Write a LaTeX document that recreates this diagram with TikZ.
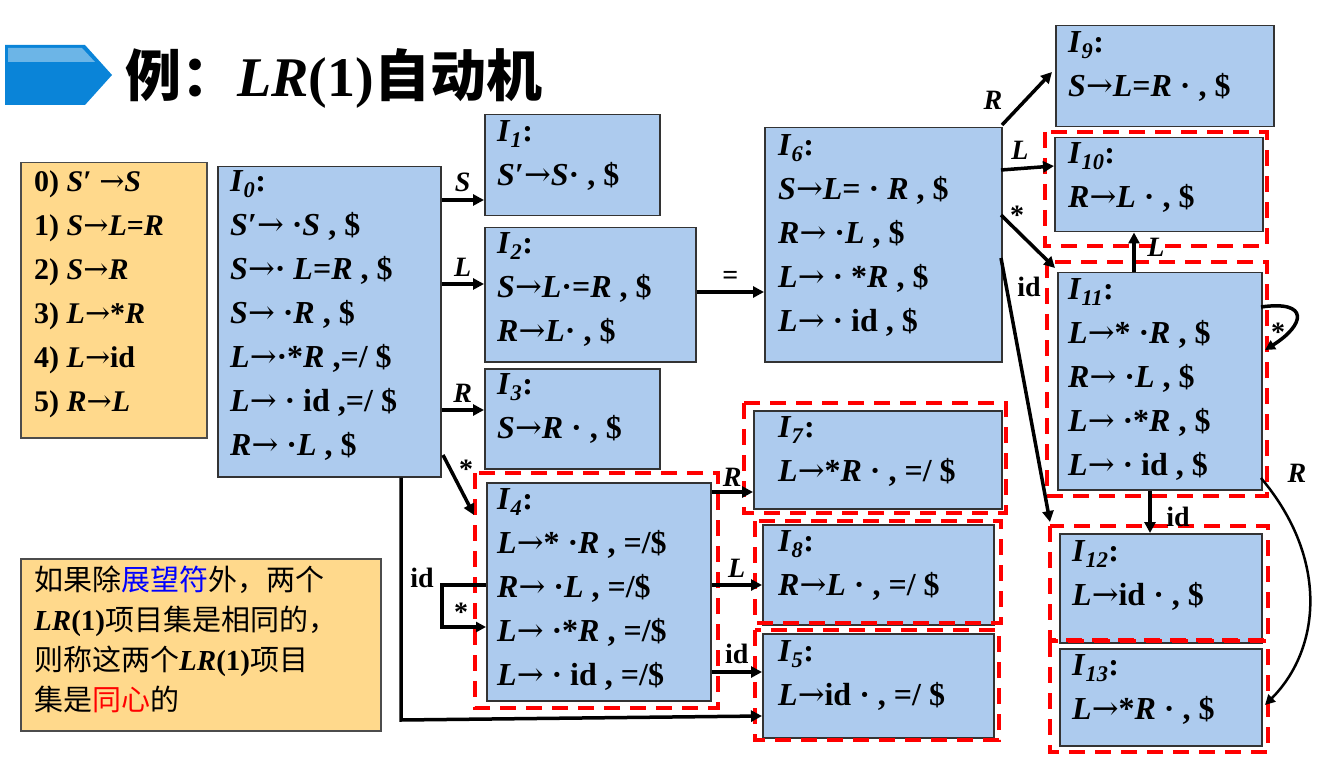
\documentclass[tikz,border=0pt]{standalone}
\usepackage{fontspec}
\setmainfont{Liberation Serif}
\newfontfamily\cjk{Noto Sans CJK SC}
\newfontfamily\arrf{DejaVu Serif}
\usetikzlibrary{arrows.meta,positioning}
\definecolor{boxb}{HTML}{ADCBEE}
\definecolor{boxo}{HTML}{FFD98C}
\definecolor{tblue}{HTML}{0A84D8}
\newcommand{\ii}[1]{\textit{#1}}
\newcommand{\Ix}[1]{\textit{I}\textsubscript{\textit{#1}}:}
\newcommand{\ra}{{\arrf\mdseries →}}
\begin{document}
\begin{tikzpicture}[x=1pt,y=-1pt,
  box/.style={draw=black!80,line width=1.5pt,fill=boxb,anchor=north west,inner sep=0},
  txt/.style={anchor=north west,inner sep=0,align=left,font=\fontsize{32}{44}\selectfont\bfseries},
  red/.style={draw=red,line width=4pt,dash pattern=on 16pt off 10pt},
  arr/.style={line width=3.5pt,-{Triangle[length=11pt,width=11pt]}},
  lab/.style={font=\fontsize{28}{30}\selectfont\bfseries,inner sep=0}]
\useasboundingbox (0,0) rectangle (1324,775);
% title
\fill[tblue] (5,45) -- (85,45) -- (112,75) -- (85,105) -- (5,105) -- cycle;
\fill[white,opacity=0.4] (8,48) -- (82,48) -- (95,62) -- (8,62) -- cycle;
\node[anchor=west,inner sep=0,font=\fontsize{56}{60}\selectfont\bfseries] (title) at (125,78) {{\cjk 例：}\ii{LR}(1){\cjk 自动机}};
% grammar
\node[draw=black!70,line width=1.5pt,fill=boxo,anchor=north west,minimum width=186,minimum height=275,inner sep=0] (G) at (20,162) {};
\node[txt,font=\fontsize{30}{44}\selectfont\bfseries] (Gt) at (34,170) {0) \ii{S}′ \ra\ii{S}\\1) \ii{S}\ra\ii{L}=\ii{R}\\2) \ii{S}\ra\ii{R}\\3) \ii{L}\ra*\ii{R}\\4) \ii{L}\ra id\\5) \ii{R}\ra\ii{L}};
% boxes
\node[box,minimum width=223,minimum height=310] (I0) at (217,166) {};
\node[txt] (t0) at (230,170) {\Ix{0}\\\ii{S}′\ra\ ·\ii{S} , \$\\\ii{S}\ra· \ii{L}=\ii{R} , \$\\\ii{S}\ra\ ·\ii{R} , \$\\\ii{L}\ra·*\ii{R} ,=/ \$\\\ii{L}\ra\ · id ,=/ \$\\\ii{R}\ra\ ·\ii{L} , \$};
\node[box,minimum width=175,minimum height=101] (I1) at (484,114) {};
\node[txt] (t1) at (497,120) {\Ix{1}\\\ii{S}′\ra\ii{S}· , \$};
\node[box,minimum width=211,minimum height=134] (I2) at (484,227) {};
\node[txt] (t2) at (497,232) {\Ix{2}\\\ii{S}\ra\ii{L}·=\ii{R} , \$\\\ii{R}\ra\ii{L}· , \$};
\node[box,minimum width=175,minimum height=100] (I3) at (484,368) {};
\node[txt] (t3) at (497,373) {\Ix{3}\\\ii{S}\ra\ii{R} · , \$};
\node[box,minimum width=224,minimum height=218] (I4) at (486,482) {};
\node[txt] (t4) at (497,488) {\Ix{4}\\\ii{L}\ra* ·\ii{R} , =/\$\\\ii{R}\ra\ ·\ii{L} , =/\$\\\ii{L}\ra\ ·*\ii{R} , =/\$\\\ii{L}\ra\ · id , =/\$};
\node[box,minimum width=237,minimum height=234] (I6) at (764,127) {};
\node[txt] (t6) at (778,134) {\Ix{6}\\\ii{S}\ra\ii{L}= · \ii{R} , \$\\\ii{R}\ra\ ·\ii{L} , \$\\\ii{L}\ra\ · *\ii{R} , \$\\\ii{L}\ra\ · id , \$};
\node[box,minimum width=248,minimum height=98] (I7) at (753,410) {};
\node[txt] (t7) at (778,416) {\Ix{7}\\\ii{L}\ra*\ii{R} · , =/ \$};
\node[box,minimum width=231,minimum height=100] (I8) at (762,524) {};
\node[txt] (t8) at (778,530) {\Ix{8}\\\ii{R}\ra\ii{L} · , =/ \$};
\node[box,minimum width=231,minimum height=104] (I5) at (762,633) {};
\node[txt] (t5) at (778,640) {\Ix{5}\\\ii{L}\ra id · , =/ \$};
\node[box,minimum width=218,minimum height=101] (I9) at (1055,25) {};
\node[txt] (t9) at (1068,31) {\Ix{9}\\\ii{S}\ra\ii{L}=\ii{R} · , \$};
\node[box,minimum width=208,minimum height=94] (I10) at (1054,137) {};
\node[txt] (t10) at (1068,142) {\Ix{10}\\\ii{R}\ra\ii{L} · , \$};
\node[box,minimum width=204,minimum height=217] (I11) at (1057,272) {};
\node[txt] (t11) at (1068,278) {\Ix{11}\\\ii{L}\ra* ·\ii{R} , \$\\\ii{R}\ra\ ·\ii{L} , \$\\\ii{L}\ra\ ·*\ii{R} , \$\\\ii{L}\ra\ · id , \$};
\node[box,minimum width=202,minimum height=109] (I12) at (1059,533) {};
\node[txt] (t12) at (1072,540) {\Ix{12}\\\ii{L}\ra id · , \$};
\node[box,minimum width=202,minimum height=97] (I13) at (1059,648) {};
\node[txt] (t13) at (1072,654) {\Ix{13}\\\ii{L}\ra*\ii{R} · , \$};
% red dashed
\draw[red] (475,473) rectangle (718,708);
\draw[red] (744,403) rectangle (1006,513);
\draw[red] (755,521) rectangle (1001,623);
\draw[red] (755,630) rectangle (999,740);
\draw[red] (1045,132) rectangle (1267,246);
\draw[red] (1047,262) rectangle (1267,496);
\draw[red] (1050,526) rectangle (1268,640);
\draw[red] (1050,641) rectangle (1268,752);
% note
\node[draw=black!70,line width=1.5pt,fill=boxo,anchor=north west,minimum width=360,minimum height=172,inner sep=0] (N) at (20,558) {};
\node[txt,font=\fontsize{29}{40}\selectfont\cjk] (Nt) at (34,566) {如果除{\color{blue}展望符}外，两个\\{\rmfamily\bfseries\ii{LR}(1)}项目集是相同的，\\则称这两个{\rmfamily\bfseries\ii{LR}(1)}项目\\集是{\color{red}同心}的};
% arrows
\draw[arr] (I0.east |- 0,200) -- (I1.west |- 0,200) node[lab,midway,above=6pt] {\ii{S}};
\draw[arr] (I0.east |- 0,284) -- (I2.west |- 0,284) node[lab,midway,above=6pt] {\ii{L}};
\draw[arr] (I0.east |- 0,410) -- (I3.west |- 0,410) node[lab,midway,above=6pt] {\ii{R}};
\coordinate (a4) at (443,455); \coordinate (b4) at (474,515);
\draw[arr] (a4) -- (b4);
\node[lab] (s4) at (466,469) {*};
\coordinate (c5) at (401,720);
\draw[arr] (I0.south -| 401,0) -- (c5) -- (I5.west |- 0,716);
\draw[arr] (I2.east |- 0,292) -- (I6.west |- 0,292) node[lab,midway,above=6pt] {=};
\draw[arr] (I4.east |- 0,492) -- (I7.west |- 0,492) node[lab,midway,above=4pt] {\ii{R}};
\draw[arr] (I4.east |- 0,585) -- (I8.west |- 0,585) node[lab,midway,above=6pt] {\ii{L}};
\draw[arr] (I4.east |- 0,672) -- (I5.west |- 0,672) node[lab,midway,above=6pt] {id};
\coordinate (l1) at (442,585); \coordinate (l2) at (442,627);
\draw[line width=3.5pt,-{Triangle[length=10pt,width=10pt]}] (I4.west |- 0,585) -- (l1) -- (l2) -- (I4.west |- 0,627);
\node[lab] (idl) at (422,578) {id};
\node[lab] (stl) at (461,612) {*};
\coordinate (e9) at (1052,72);
\draw[arr] (1002,125) -- (e9);
\node[lab] (r9) at (993,100) {\ii{R}};
\draw[arr] (1001,170) -- (I10.west |- 0,166);
\node[lab] (l10) at (1020,150) {\ii{L}};
\coordinate (e11) at (1055,268);
\draw[arr] (1001,215) -- (e11);
\node[lab] (s11) at (1017,215) {*};
\coordinate (e12) at (1050,522);
\draw[arr] (1001,258) -- (e12);
\node[lab] (id12) at (1029,287) {id};
\draw[arr] (I11.north -| 1134,0) -- (I10.south -| 1134,0);
\node[lab] (l1011) at (1156,247) {\ii{L}};
\draw[line width=3.5pt,-{Triangle[length=10pt,width=10pt]}] (1261,307) .. controls (1310,300) and (1305,325) .. (1265,350);
\node[lab] (s1111) at (1278,332) {*};
\draw[arr] (I11.south -| 1150,0) -- (I12.north -| 1150,0);
\node[lab] (id1112) at (1178,517) {id};
\draw[line width=2.5pt,-{Triangle[length=10pt,width=10pt]}] (1261,478) .. controls (1330,560) and (1320,650) .. (1265,705);
\node[lab] (r13) at (1297,473) {\ii{R}};
\end{tikzpicture}
\end{document}
